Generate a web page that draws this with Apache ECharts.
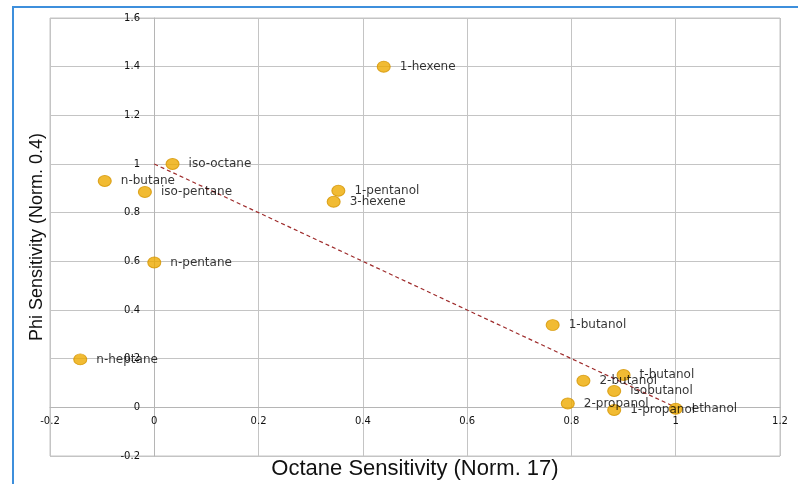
<!DOCTYPE html>
<html>
<head>
<meta charset="utf-8">
<script src="https://cdn.jsdelivr.net/npm/echarts@6/dist/echarts.min.js"></script>
<style>
html, body { margin: 0; padding: 0; background: #fff; }
#chart { width: 798px; height: 484px; }
</style>
</head>
<body>
<div id="chart"></div>
<script>
// ------------------ data ------------------
var fuelNames = ['1-hexene', 'iso-octane', 'n-butane', 'iso-pentane', '1-pentanol', '3-hexene',
    'n-pentane', 'n-heptane', '1-butanol', 't-butanol', '2-butanol', 'isobutanol',
    '2-propanol', '1-propanol', 'ethanol'];
var octaneSens = [0.44, 0.035, -0.095, -0.018, 0.353, 0.344,
    0.0, -0.142, 0.764, 0.9, 0.823, 0.882,
    0.793, 0.882, 1.0];
var phiSens = [1.40, 1.0, 0.93, 0.885, 0.89, 0.845,
    0.595, 0.197, 0.338, 0.133, 0.109, 0.067,
    0.016, -0.011, -0.006];
var trendX = [0, 1];
var trendY = [1, 0];

var pts = [];
for (var i = 0; i < fuelNames.length; i++) {
    pts.push({name: fuelNames[i], value: [octaneSens[i], phiSens[i]]});
}
var trend = [];
for (var j = 0; j < trendX.length; j++) {
    trend.push([trendX[j], trendY[j]]);
}

var myChart = echarts.init(document.getElementById('chart'));
var tickFont = {fontFamily: 'DejaVu Sans', fontSize: 10, color: '#111'};
var option = {
    animation: false,
    backgroundColor: '#fff',
    graphic: [{
        type: 'rect',
        shape: {x: 13, y: 7, width: 800, height: 500},
        style: {fill: 'none', stroke: '#3d8fdc', lineWidth: 2},
        z: 100
    }],
    grid: {
        left: 50, top: 18, right: 18, bottom: 28,
        outerBoundsMode: 'none',
        containLabel: false,
        show: true, borderColor: '#c4c4c4', borderWidth: 1
    },
    // axes sit on the zero lines, labels follow them (offset = pixels from grid edge)
    xAxis: {
        type: 'value',
        min: -0.2, max: 1.2, interval: 0.2,
        offset: -49,
        name: 'Octane Sensitivity (Norm. 17)',
        nameLocation: 'middle',
        nameGap: 51,
        nameTextStyle: {fontFamily: 'Liberation Sans', fontSize: 22, color: '#111'},
        axisLine: {onZero: false, lineStyle: {color: '#b5b5b5'}},
        axisTick: {show: false},
        axisLabel: Object.assign({margin: 9}, tickFont),
        splitLine: {lineStyle: {color: '#c4c4c4'}}
    },
    yAxis: {
        type: 'value',
        min: -0.2, max: 1.6, interval: 0.2,
        offset: -104,
        name: 'Phi Sensitivity (Norm. 0.4)',
        nameLocation: 'middle',
        nameGap: 108,
        nameTextStyle: {fontFamily: 'Liberation Sans', fontSize: 18, color: '#111'},
        axisLine: {onZero: false, lineStyle: {color: '#b5b5b5'}},
        axisTick: {show: false},
        axisLabel: Object.assign({margin: 14}, tickFont),
        splitLine: {lineStyle: {color: '#c4c4c4'}}
    },
    series: [
        {
            type: 'line',
            data: trend,
            symbol: 'none',
            lineStyle: {color: '#9e2b2b', width: 1.2, type: [4, 3]},
            z: 2
        },
        {
            type: 'scatter',
            data: pts,
            symbolSize: [13, 11],
            itemStyle: {color: '#eeaa00', borderColor: '#d49500', borderWidth: 1},
            label: {
                show: true,
                position: 'right',
                distance: 9,
                formatter: '{b}',
                fontFamily: 'DejaVu Sans',
                fontSize: 12,
                color: '#000'
            },
            z: 3
        }
    ]
};
myChart.setOption(option);
</script>
</body>
</html>
